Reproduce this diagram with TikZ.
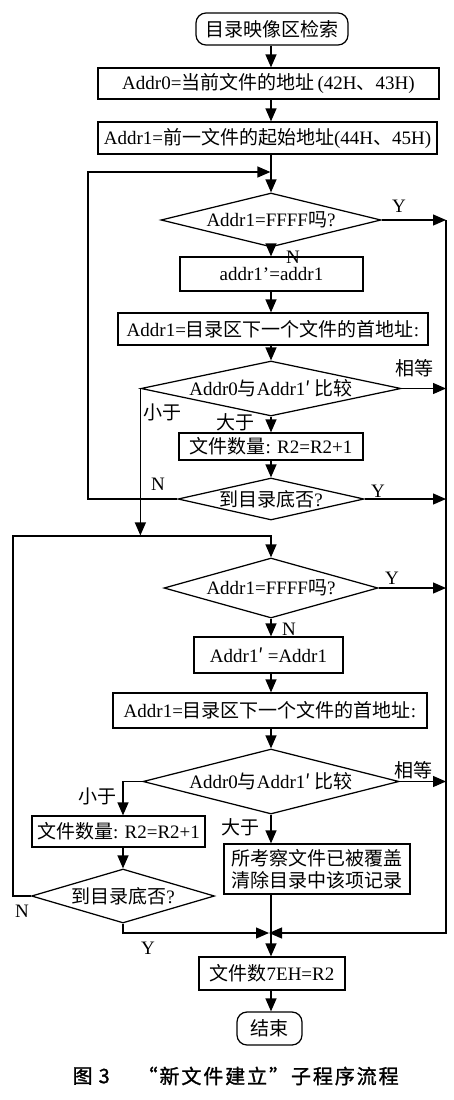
\documentclass[tikz,border=0pt]{standalone}
\usepackage{fontspec}
\setmainfont{Liberation Serif}
\newfontfamily\cjk{Noto Sans CJK SC}
\newfontfamily\cjkcap[FakeBold=1.2]{Noto Sans CJK SC}
\newcommand{\zhx}[1]{{\cjk #1}}
\usetikzlibrary{shapes.geometric,arrows.meta}
\begin{document}
\begin{tikzpicture}[x=1pt,y=-1pt,
  font=\fontsize{19}{22}\selectfont,
  line width=1.25pt,
  box/.style={draw, rectangle, inner sep=0pt, align=center},
  term/.style={draw, rectangle, rounded corners=10pt, inner sep=0pt},
  dec/.style={draw, diamond, inner sep=0pt},
  arr/.style={-{Triangle[length=13pt,width=11pt]}},
  lab/.style={inner sep=0pt}]
\fill[white] (0,0) rectangle (454,1100);
\useasboundingbox (0,0) rectangle (454,1100);

\coordinate (ax) at (271,0);
\coordinate (R) at (446,220);
\coordinate (L1) at (88,172);
\coordinate (L2) at (13,536);
\coordinate (M) at (271,933);

% nodes
\node[term, minimum width=152pt, minimum height=32pt] (start) at (272,29) {\zhx{目录映像区检索}};
\node[box, minimum width=341pt, minimum height=31pt] (b1) at (268.5,83.5) {Addr0=\zhx{当前文件的地址}\,(42H\zhx{、}43H)};
\node[box, minimum width=339pt, minimum height=32pt] (b2) at (267.5,138) {Addr1=\zhx{前一文件的起始地址}(44H\zhx{、}45H)};
\node[dec, aspect=4, minimum width=220pt, minimum height=54pt] (d1) at (271,220) {Addr1=FFFF\zhx{吗}?};
\node[box, minimum width=183pt, minimum height=34pt] (b3) at (271.5,274) {addr1'=addr1};
\node[box, minimum width=310pt, minimum height=32pt] (b4) at (273,329) {Addr1=\zhx{目录区下一个文件的首地址}:};
\node[dec, aspect=4.7, minimum width=260pt, minimum height=55pt] (d2) at (271,388.5) {Addr0\zhx{与}Addr1\zhx{′}\hspace{4pt}\zhx{比较}};
\node[box, minimum width=184pt, minimum height=27pt] (b5) at (271,446.5) {\zhx{文件数量}: R2=R2+1};
\node[dec, aspect=4.4, minimum width=186pt, minimum height=42pt] (d3) at (271,499) {\zhx{到目录底否}?};
\node[dec, aspect=3.6, minimum width=214pt, minimum height=60pt] (d4) at (271,588) {Addr1=FFFF\zhx{吗}?};
\node[box, minimum width=149pt, minimum height=36pt] (b6) at (268.5,655) {Addr1\zhx{′}\hspace{4pt}=Addr1};
\node[box, minimum width=314pt, minimum height=35pt] (b7) at (270,710.5) {Addr1=\zhx{目录区下一个文件的首地址}:};
\node[dec, aspect=3.9, minimum width=256pt, minimum height=65pt] (d5) at (271,781.5) {Addr0\zhx{与}Addr1\zhx{′}\hspace{4pt}\zhx{比较}};
\node[box, minimum width=173pt, minimum height=31pt] (b8) at (118.5,831.5) {\zhx{文件数量}: R2=R2+1};
\node[box, minimum width=186pt, minimum height=50pt] (b9) at (317,869) {\zhx{所考察文件已被覆盖}\\\zhx{清除目录中该项记录}};
\node[dec, aspect=3.4, minimum width=183pt, minimum height=54pt] (d6) at (123,896) {\zhx{到目录底否}?};
\node[box, minimum width=146pt, minimum height=33pt] (b10) at (272,973.5) {\zhx{文件数}7EH=R2};
\node[term, minimum width=65pt, minimum height=33pt] (end) at (269.5,1028.5) {\zhx{结束}};

% main axis
\draw[arr] (ax |- start.south) -- (ax |- b1.north);
\draw[arr] (ax |- b1.south) -- (ax |- b2.north);
\draw[arr] (ax |- b2.south) -- (d1.north);
\draw[arr] (d1.south) -- (ax |- b3.north);
\draw[arr] (ax |- b3.south) -- (ax |- b4.north);
\draw[arr] (ax |- b4.south) -- (d2.north);
\draw[arr] (d2.south) -- (ax |- b5.north);
\draw[arr] (ax |- b5.south) -- (d3.north);
\draw[arr, shorten >=0.6pt] (d3.west) -| (L1) -- (ax |- L1);

% Y / equal branches to right rail
\draw[arr] (d1.east) -- (R);
\draw[arr] (d2.east) -- (d2.east -| R);
\draw[arr] (d3.east) -- (d3.east -| R);
\draw[arr] (d4.east) -- (d4.east -| R);
\draw[arr] (d5.east) -- (d5.east -| R);
\draw[arr, shorten >=-2pt] (R) |- (M);

% second part
\draw[arr, shorten >=0.6pt] (d2.west) -- (d2.west |- L2);
\draw[arr] (d6.west) -| (L2) -- (ax |- L2) -- (d4.north);
\draw[arr] (d4.south) -- (ax |- b6.north);
\draw[arr] (ax |- b6.south) -- (ax |- b7.north);
\draw[arr] (ax |- b7.south) -- (d5.north);
\draw[arr] (d5.west) -| (d6.north |- b8.north);
\draw[arr] (d6.north |- b8.south) -- (d6.north);
\draw[arr] (d5.south) -- (d5.south |- b9.north);
\draw (d5.south |- b9.south) -- (M);
\draw[arr, shorten >=2pt] (d6.south) |- (M);
\draw[arr] (M) -- (ax |- b10.north);
\draw[arr] (ax |- b10.south) -- (ax |- end.north);

% labels
\node[lab] (y1) at (399,206) {Y};
\node[lab] (n1) at (293,257) {N};
\node[lab] (e1) at (414,368) {\zhx{相等}};
\node[lab] (s1) at (162,412) {\zhx{小于}};
\node[lab] (g1) at (235,422) {\zhx{大于}};
\node[lab] (n2) at (158,484) {N};
\node[lab] (y2) at (378,491) {Y};
\node[lab] (y3) at (392,578) {Y};
\node[lab] (n3) at (289,629) {N};
\node[lab] (e2) at (413,770) {\zhx{相等}};
\node[lab] (s2) at (97,796) {\zhx{小于}};
\node[lab] (g2) at (240,827) {\zhx{大于}};
\node[lab] (n4) at (22,911) {N};
\node[lab] (y4) at (148,948) {Y};

% caption
\node[anchor=west, inner sep=0pt, font=\cjkcap\fontsize{20}{24}\selectfont] (cap1) at (72,1076) {图\hspace{6pt}3};
\node[anchor=west, inner sep=0pt, font=\cjkcap\fontsize{20}{24}\selectfont] (cap2) at (137,1076) {\makebox[261pt][s]{“\hfill 新\hfill 文\hfill 件\hfill 建\hfill 立\hfill ”\hfill 子\hfill 程\hfill 序\hfill 流\hfill 程}};
\end{tikzpicture}
\end{document}
